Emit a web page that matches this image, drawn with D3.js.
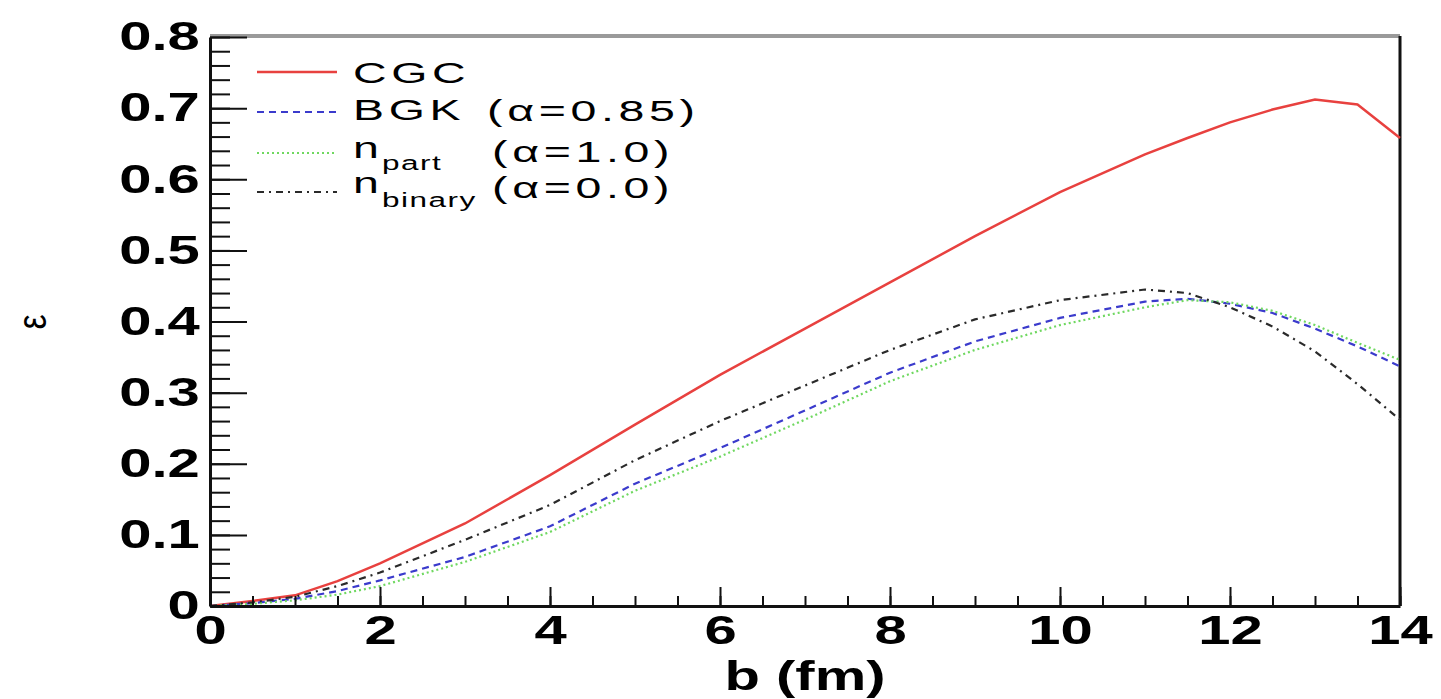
<!DOCTYPE html>
<html>
<head>
<meta charset="utf-8">
<script src="https://cdn.jsdelivr.net/npm/d3@7"></script>
<style>
  body { margin: 0; background: #fff; }
  svg { display: block; }
  text { font-family: "Liberation Sans", Arial, sans-serif; }
</style>
</head>
<body>
<div id="myfigure"></div>
<script>
// impact parameter b (fm)
var bValues = [0, 0.5, 1, 1.5, 2, 3, 4, 5, 6, 7, 8, 9, 10, 11, 11.5, 12, 12.5, 13, 13.5, 14];

// eccentricity for each model
var cgc     = [0, 0.007, 0.015, 0.035, 0.060, 0.116, 0.184, 0.255, 0.325, 0.390, 0.455, 0.520, 0.582, 0.635, 0.658, 0.680, 0.698, 0.712, 0.705, 0.658];
var bgk     = [0, 0.004, 0.010, 0.021, 0.036, 0.069, 0.112, 0.172, 0.222, 0.275, 0.328, 0.372, 0.405, 0.428, 0.432, 0.425, 0.412, 0.390, 0.365, 0.337];
var npart   = [0, 0.003, 0.008, 0.016, 0.028, 0.062, 0.104, 0.162, 0.210, 0.262, 0.316, 0.360, 0.395, 0.420, 0.430, 0.427, 0.415, 0.395, 0.370, 0.346];
var nbinary = [0, 0.005, 0.013, 0.028, 0.047, 0.093, 0.142, 0.205, 0.260, 0.310, 0.360, 0.403, 0.430, 0.445, 0.440, 0.420, 0.393, 0.358, 0.312, 0.262];

var xTickValues = [0, 2, 4, 6, 8, 10, 12, 14];
var xTickLabels = ["0", "2", "4", "6", "8", "10", "12", "14"];
var yTickValues = [0, 0.1, 0.2, 0.3, 0.4, 0.5, 0.6, 0.7, 0.8];
var yTickLabels = ["0", "0.1", "0.2", "0.3", "0.4", "0.5", "0.6", "0.7", "0.8"];

var legendNames  = ["CGC", "BGK", "n", "n"];
var legendSubs   = ["", "", "part", "binary"];
var legendAlphas = ["", "(\u03b1=0.85)", "(\u03b1=1.0)", "(\u03b1=0.0)"];

var width = 1441, height = 699;
var margin = { left: 210, right: 41, top: 37, bottom: 93 };

var svg = d3.select("#myfigure").append("svg")
    .attr("width", width)
    .attr("height", height);

var xScale = d3.scaleLinear().domain([0, 14]).range([margin.left, width - margin.right]);
var yScale = d3.scaleLinear().domain([0, 0.8]).range([height - margin.bottom, margin.top]);

var series = [
    { name: "CGC",     values: cgc,     color: "#e8413f", dash: null,          w: 2.5 },
    { name: "BGK",     values: bgk,     color: "#3b3bcc", dash: "7,5",         w: 2.2 },
    { name: "npart",   values: npart,   color: "#6fd860", dash: "2,3",         w: 2.2 },
    { name: "nbinary", values: nbinary, color: "#2a2a2a", dash: "7,5,2,5",     w: 2.2 }
];

// frame: grey top, black right
svg.append("line")
    .attr("x1", xScale(0)).attr("x2", xScale(14))
    .attr("y1", yScale(0.8) - 1).attr("y2", yScale(0.8) - 1)
    .attr("stroke", "#9a9a9a").attr("stroke-width", 4);
svg.append("line")
    .attr("x1", xScale(14)).attr("x2", xScale(14))
    .attr("y1", yScale(0.8) - 1).attr("y2", yScale(0))
    .attr("stroke", "#111").attr("stroke-width", 3);

// curves
var line = d3.line()
    .x(function(d) { return xScale(d[0]); })
    .y(function(d) { return yScale(d[1]); });

series.forEach(function(s) {
    var pts = bValues.map(function(b, i) { return [b, s.values[i]]; });
    svg.append("path")
        .datum(pts)
        .attr("d", line)
        .attr("fill", "none")
        .attr("stroke", s.color)
        .attr("stroke-width", s.w)
        .attr("stroke-dasharray", s.dash);
});

// axes (ticks drawn inward, ROOT style)
var yMinor = svg.append("g")
    .attr("transform", "translate(" + margin.left + ",0)")
    .call(d3.axisLeft(yScale).tickValues(d3.range(0, 0.8001, 0.02)).tickSize(-20).tickFormat(""));
yMinor.select(".domain").remove();

var yAxis = svg.append("g")
    .attr("transform", "translate(" + margin.left + ",0)")
    .call(d3.axisLeft(yScale).tickValues(yTickValues).tickSize(-37).tickSizeOuter(0).tickPadding(7)
        .tickFormat(function(d, i) { return yTickLabels[i]; }));

var xMinor = svg.append("g")
    .attr("transform", "translate(0," + (height - margin.bottom) + ")")
    .call(d3.axisBottom(xScale).tickValues(d3.range(0, 14.001, 0.5)).tickSize(-10).tickFormat(""));
xMinor.select(".domain").remove();

var xAxis = svg.append("g")
    .attr("transform", "translate(0," + (height - margin.bottom) + ")")
    .call(d3.axisBottom(xScale).tickValues(xTickValues).tickSize(-19).tickSizeOuter(0).tickPadding(10)
        .tickFormat(function(d, i) { return xTickLabels[i]; }));

svg.selectAll(".tick line").attr("stroke", "#111").attr("stroke-width", 2);
svg.selectAll(".domain").attr("stroke", "#111").attr("stroke-width", 3);

yAxis.selectAll("text")
    .attr("font-size", 40).attr("font-weight", "bold").attr("fill", "#000")
    .attr("font-family", "'Liberation Sans', Arial, sans-serif")
    .attr("transform", "scale(1.45,1)");
xAxis.selectAll("text")
    .attr("font-size", 40).attr("font-weight", "bold").attr("fill", "#000")
    .attr("font-family", "'Liberation Sans', Arial, sans-serif")
    .attr("transform", "scale(1.45,1)");

// axis titles
svg.append("text")
    .attr("transform", "translate(" + (margin.left + (width - margin.left - margin.right) / 2) + ",690) scale(1.45,1)")
    .attr("text-anchor", "middle")
    .attr("font-size", 40).attr("font-weight", "bold")
    .text("b (fm)");

svg.append("text")
    .attr("transform", "translate(46,322) rotate(-90) scale(1,1.2)")
    .attr("text-anchor", "middle")
    .attr("font-size", 34)
    .text("\u03b5");

// legend
var legendLineY = [72, 112, 153, 192];
var legendBase  = [83, 120, 158, 193];
var legendSubBase = [0, 0, 170, 207];
var legendAlphaX  = [0, 487, 492, 492];
var legendAlphaBase = [0, 121, 162, 198];

series.forEach(function(s, i) {
    svg.append("line")
        .attr("x1", 257).attr("x2", 337)
        .attr("y1", legendLineY[i]).attr("y2", legendLineY[i])
        .attr("stroke", s.color)
        .attr("stroke-width", s.w)
        .attr("stroke-dasharray", s.dash);

    svg.append("text")
        .attr("transform", "translate(353," + legendBase[i] + ") scale(1.55,1)")
        .attr("font-size", 30).attr("letter-spacing", 3)
        .text(legendNames[i]);

    if (legendSubs[i]) {
        svg.append("text")
            .attr("transform", "translate(382," + legendSubBase[i] + ") scale(1.5,1)")
            .attr("font-size", 21).attr("letter-spacing", 1)
            .text(legendSubs[i]);
    }
    if (legendAlphas[i]) {
        svg.append("text")
            .attr("transform", "translate(" + legendAlphaX[i] + "," + legendAlphaBase[i] + ") scale(1.55,1)")
            .attr("font-size", 30).attr("letter-spacing", 3)
            .text(legendAlphas[i]);
    }
});
</script>
</body>
</html>
